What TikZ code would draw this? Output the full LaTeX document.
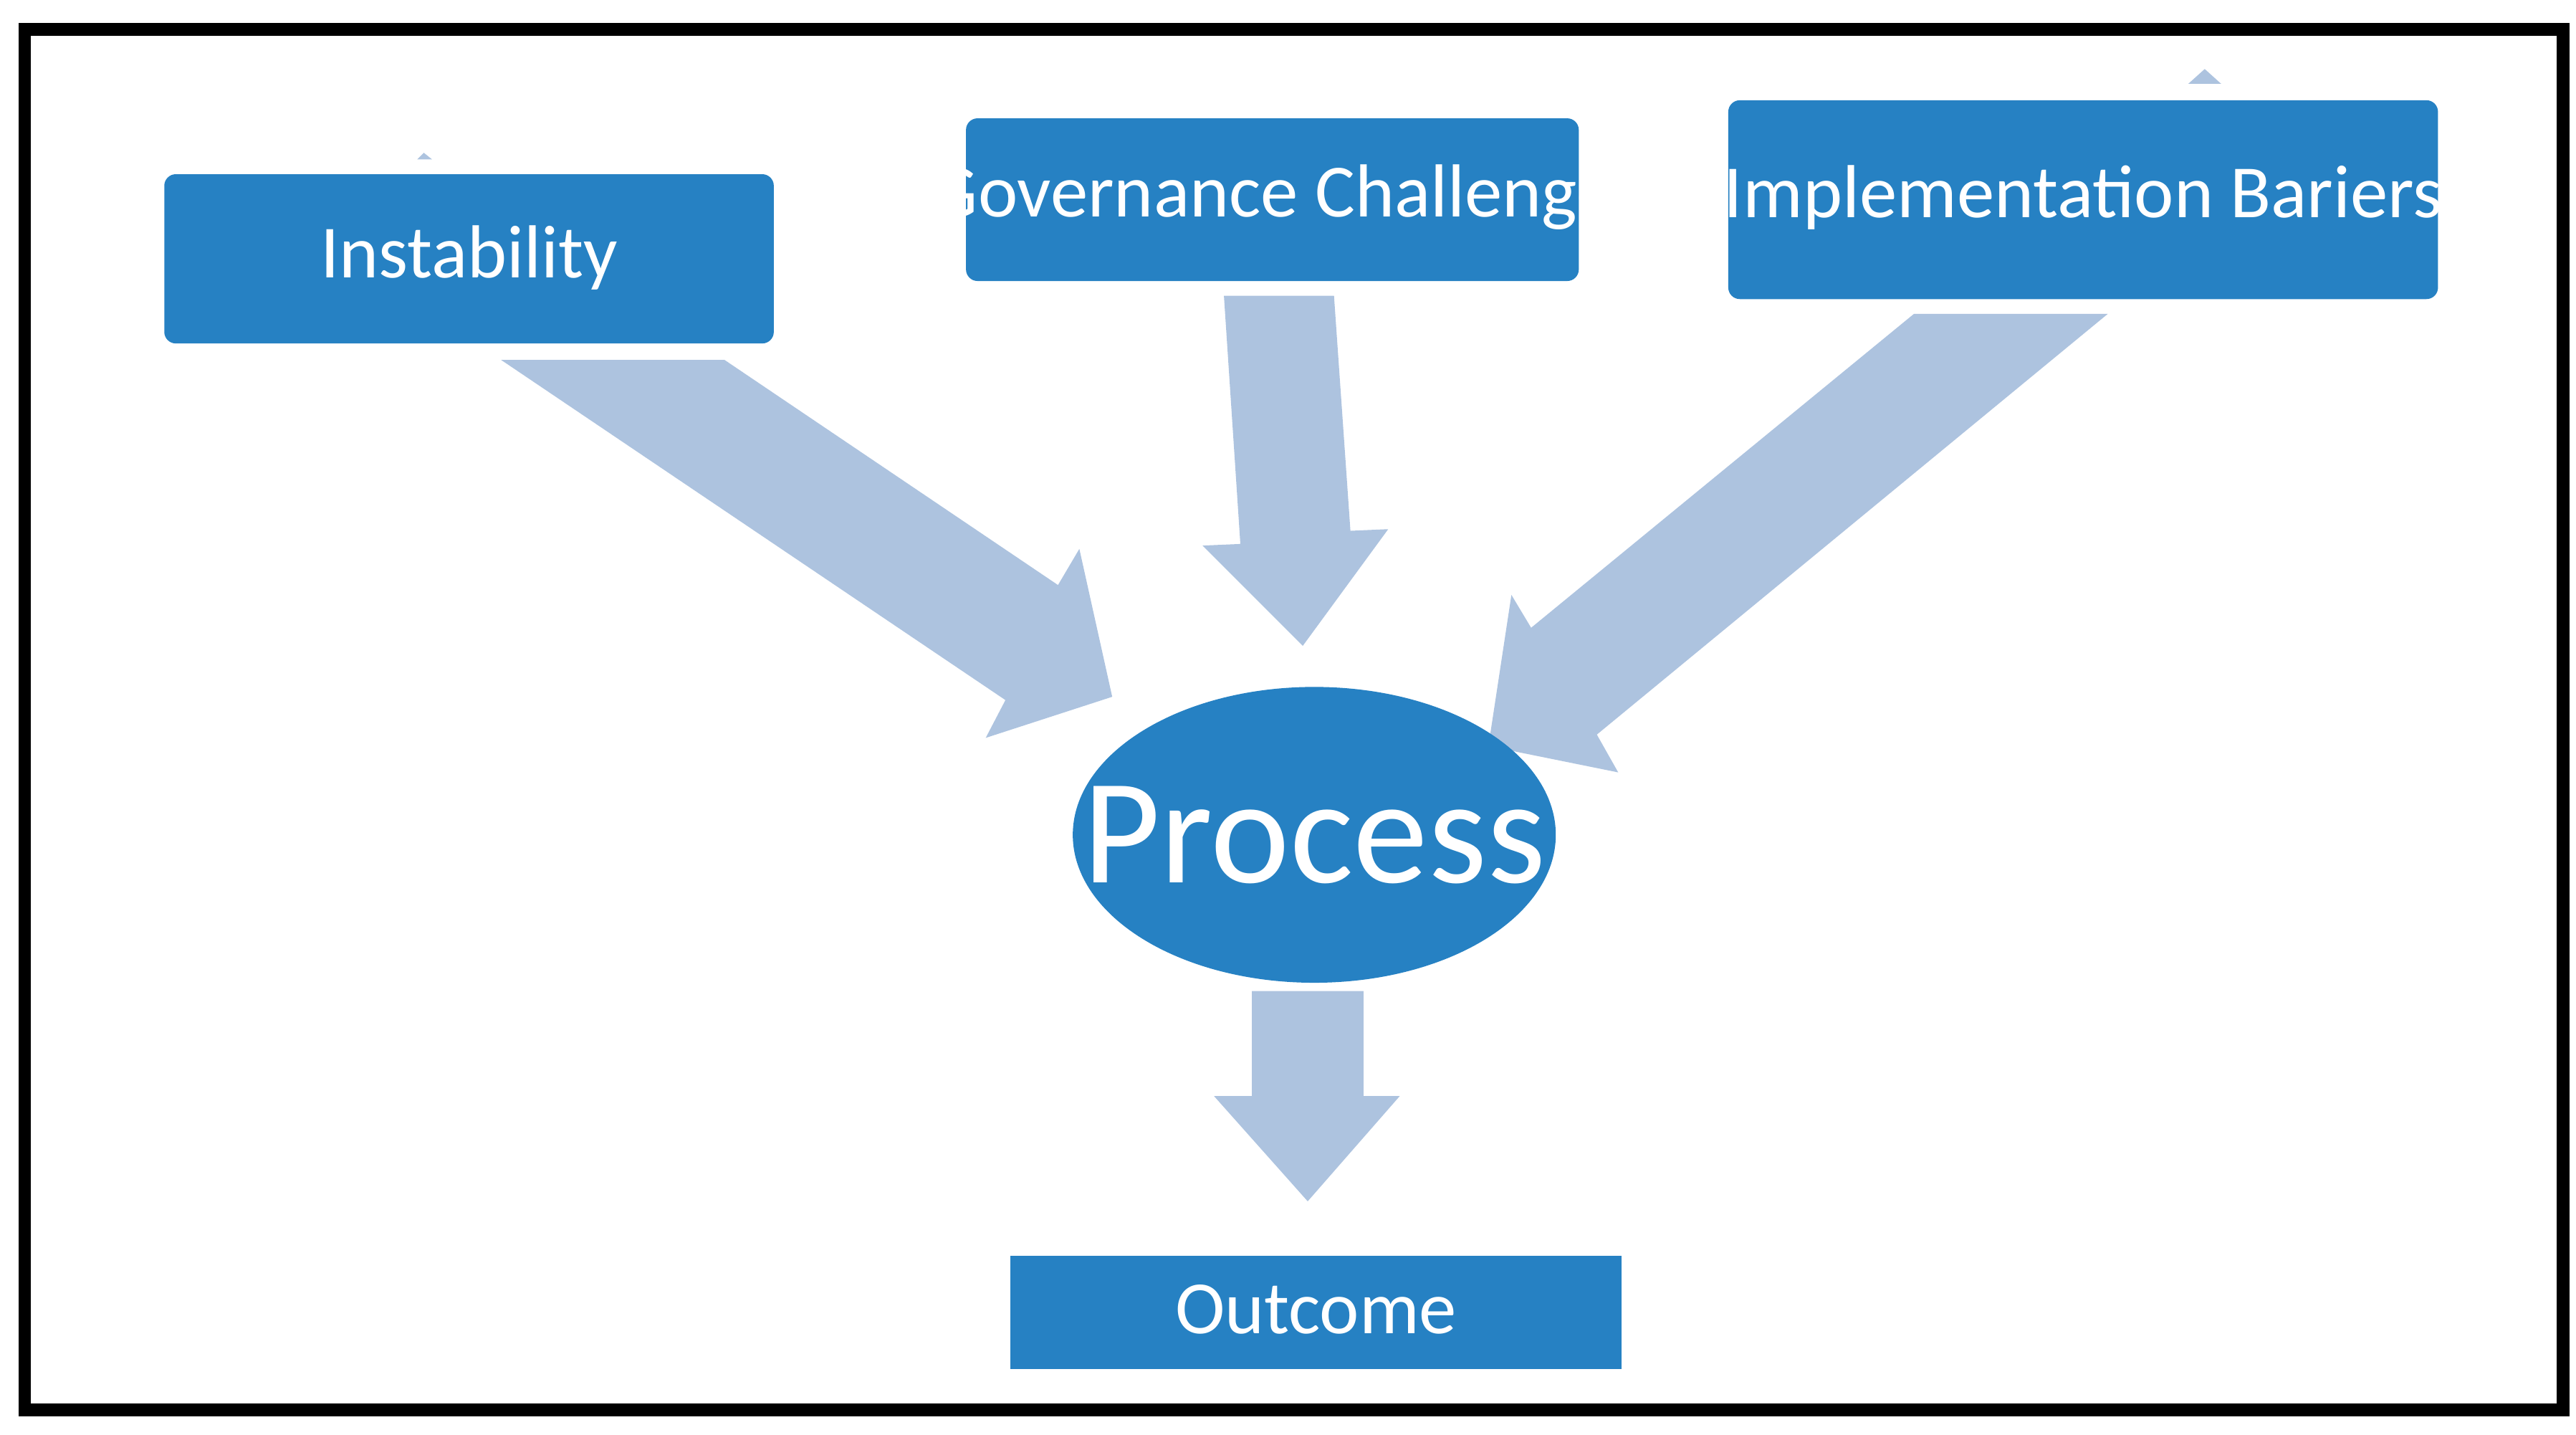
\documentclass[tikz,border=0pt]{standalone}
\usepackage{fontspec}
\setmainfont{Carlito}
\definecolor{boxblue}{HTML}{2681C3}
\definecolor{arrblue}{HTML}{ADC3DF}
\begin{document}
\begin{tikzpicture}[x=0.01cm,y=-0.01cm,
  box/.style={fill=boxblue,rounded corners=2pt,text=white},
  lbl/.style={text=white,font=\fontsize{13}{15}\selectfont},
  arr/.style={fill=arrblue,draw=none}]
\useasboundingbox (0,0) rectangle (1568,873);
\draw[line width=2.2pt] (15,18) rectangle (1560,858);
% arrows
\fill[arr] (305,219)--(441,219)--(644,356)--(657,334)--(677,424)--(600,449)--(612,426)--cycle;
\fill[arr] (745,180)--(812,180)--(822,323)--(845,322)--(793,393)--(732,332)--(755,331)--cycle;
\fill[arr] (1165,191)--(1283,191)--(972,447)--(985,470)--(906,454)--(920,362)--(932,382)--cycle;
\fill[arr] (762,603)--(830,603)--(830,667)--(852,667)--(796,731)--(739,667)--(762,667)--cycle;
\fill[arr] (1332,51)--(1352,51)--(1342,42)--cycle;
\fill[arr] (254,97)--(263,97)--(258,93)--cycle;
% boxes
\fill[box] (100,106) rectangle (471,209);
\node[lbl] (inst) at (285.5,157) {Instability};
\fill[box] (588,72) rectangle (961,171);
\node[lbl] (gov) at (774.5,120) {Governance Challenge};
\fill[box] (1052,61) rectangle (1484,182);
\node[lbl] (impl) at (1268,120) {Implementation Bariers};
\fill[boxblue] (615,764) rectangle (987,833);
\node[lbl] (out) at (801,797) {Outcome};
\fill[boxblue] (800,508) ellipse [x radius=147, y radius=90];
\node[text=white,font=\fontsize{26}{30}\selectfont] (proc) at (800,508) {Process};
\end{tikzpicture}
\end{document}
